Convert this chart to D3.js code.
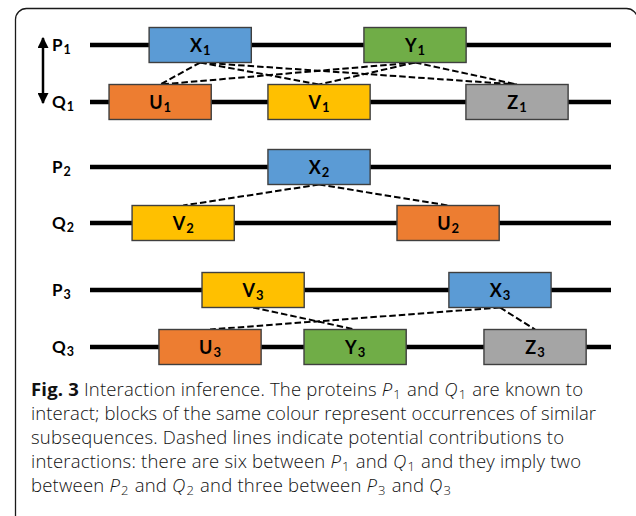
<!DOCTYPE html>
<html>
<head>
<meta charset="utf-8">
<script src="https://cdn.jsdelivr.net/npm/d3@7"></script>
<style>
  html, body { margin: 0; padding: 0; background: #fff; }
  svg { display: block; }
</style>
</head>
<body>
<svg id="chart" width="636" height="516"></svg>
<script>
// ---------------- data ----------------
// sequence rows (protein, index)
const rows = [
  { id: "P1", name: "P", sub: "1" },
  { id: "Q1", name: "Q", sub: "1" },
  { id: "P2", name: "P", sub: "2" },
  { id: "Q2", name: "Q", sub: "2" },
  { id: "P3", name: "P", sub: "3" },
  { id: "Q3", name: "Q", sub: "3" }
];
// sequence length (arbitrary units)
const seqLength = 260;
// blocks: row, label, start, end (sequence units), similarity class
const blockRow   = ["P1","P1","Q1","Q1","Q1","P2","Q2","Q2","P3","P3","Q3","Q3","Q3"];
const blockName  = ["X","Y","U","V","Z","X","V","U","V","X","U","Y","Z"];
const blockSub   = ["1","1","1","1","1","2","2","2","3","3","3","3","3"];
const blockStart = [29.5,136.7,9.5,88.8,187.6,88.8,21,153.2,55.9,179.1,34.4,106.8,196.6];
const blockEnd   = [80.5,187.7,60.5,139.8,238.6,139.8,72,204.2,106.9,230.1,85.4,157.8,247.6];
// potential interaction contributions (dashed lines)
const linkFrom = ["X1","X1","X1","Y1","Y1","Y1","X2","X2","V3","X3","X3"];
const linkTo   = ["U1","V1","Z1","U1","V1","Z1","V2","U2","Y3","U3","Z3"];

const captionLines = [
  [{t:"Fig. 3", b:1},{t:" Interaction inference. The proteins "},{t:"P",i:1},{t:"1",s:1},{t:" and "},{t:"Q",i:1},{t:"1",s:1},{t:" are known to"}],
  [{t:"interact; blocks of the same colour represent occurrences of similar"}],
  [{t:"subsequences. Dashed lines indicate potential contributions to"}],
  [{t:"interactions: there are six between "},{t:"P",i:1},{t:"1",s:1},{t:" and "},{t:"Q",i:1},{t:"1",s:1},{t:" and they imply two"}],
  [{t:"between "},{t:"P",i:1},{t:"2",s:1},{t:" and "},{t:"Q",i:1},{t:"2",s:1},{t:" and three between "},{t:"P",i:1},{t:"3",s:1},{t:" and "},{t:"Q",i:1},{t:"3",s:1}]
];

// ---------------- layout / style ----------------
const rowY = { P1: 45, Q1: 102, P2: 167, Q2: 223, P3: 290, Q3: 347 };
const colors = { X: "#5B9BD5", Y: "#70AD47", U: "#ED7D31", V: "#FFC000", Z: "#A5A5A5" };
const boxH = 35;
const labelFont = "Lato, 'Open Sans', 'DejaVu Sans', sans-serif";
const capWidths = [552, 565, 533, 550, 420];

const svg = d3.select("#chart");
const x = d3.scaleLinear().domain([0, seqLength]).range([90, 611]);

// frame
svg.append("rect")
  .attr("x", 15.5).attr("y", 8.5)
  .attr("width", 622).attr("height", 580)
  .attr("rx", 11).attr("ry", 11)
  .attr("fill", "none").attr("stroke", "#1a1a1a").attr("stroke-width", 1.3);

// arrowhead marker
const defs = svg.append("defs");
defs.append("marker").attr("id", "ah")
  .attr("viewBox", "0 0 10 10").attr("refX", 9).attr("refY", 5)
  .attr("markerWidth", 11).attr("markerHeight", 11)
  .attr("markerUnits", "userSpaceOnUse").attr("orient", "auto-start-reverse")
  .append("path").attr("d", "M0,0 L10,5 L0,10 Z").attr("fill", "#000");

svg.append("line")
  .attr("x1", 43).attr("x2", 43)
  .attr("y1", rowY.P1 - 7).attr("y2", rowY.Q1 + 1)
  .attr("stroke", "#000").attr("stroke-width", 2.5)
  .attr("marker-start", "url(#ah)").attr("marker-end", "url(#ah)");

// sequence lines
svg.selectAll("line.seq").data(rows).join("line")
  .attr("class", "seq")
  .attr("x1", x(0)).attr("x2", x(seqLength))
  .attr("y1", d => rowY[d.id]).attr("y2", d => rowY[d.id])
  .attr("stroke", "#000").attr("stroke-width", 4.5);

// row labels
const rl = svg.selectAll("text.rowlab").data(rows).join("text")
  .attr("class", "rowlab")
  .attr("x", 52).attr("y", d => rowY[d.id] + 6)
  .attr("font-family", labelFont).attr("font-weight", 700)
  .attr("font-size", 17).attr("fill", "#000");
rl.append("tspan").text(d => d.name);
rl.append("tspan").attr("font-size", 12.5).attr("dy", 3).attr("dx", 1).text(d => d.sub);

// blocks
const blocks = blockRow.map((r, i) => ({
  row: r, name: blockName[i], sub: blockSub[i],
  start: blockStart[i], end: blockEnd[i], id: blockName[i] + blockSub[i]
}));
const byId = {};
blocks.forEach(b => byId[b.id] = b);

// dashed links (drawn under blocks)
const links = linkFrom.map((f, i) => ({ from: byId[f], to: byId[linkTo[i]] }));
svg.selectAll("line.link").data(links).join("line")
  .attr("class", "link")
  .attr("x1", d => x((d.from.start + d.from.end) / 2))
  .attr("y1", d => rowY[d.from.row] + boxH / 2)
  .attr("x2", d => x((d.to.start + d.to.end) / 2))
  .attr("y2", d => rowY[d.to.row] - boxH / 2)
  .attr("stroke", "#000").attr("stroke-width", 2)
  .attr("stroke-dasharray", "6.5,3");

const bg = svg.selectAll("g.block").data(blocks).join("g").attr("class", "block");
bg.append("rect")
  .attr("x", d => x(d.start)).attr("width", d => x(d.end) - x(d.start))
  .attr("y", d => rowY[d.row] - boxH / 2).attr("height", boxH)
  .attr("fill", d => colors[d.name])
  .attr("stroke", "#3f3f3f").attr("stroke-width", 1.4);
const bt = bg.append("text")
  .attr("x", d => x((d.start + d.end) / 2))
  .attr("y", d => rowY[d.row] + 6.5)
  .attr("text-anchor", "middle")
  .attr("font-family", labelFont).attr("font-weight", 700)
  .attr("font-size", 18).attr("fill", "#000");
bt.append("tspan").text(d => d.name);
bt.append("tspan").attr("font-size", 13).attr("dy", 3).attr("dx", 1).text(d => d.sub);

// caption
const capFont = "'Open Sans', Lato, sans-serif";
const capY0 = 396, capDY = 24;
captionLines.forEach((segs, li) => {
  const t = svg.append("text")
    .attr("x", 31).attr("y", capY0 + li * capDY)
    .attr("font-family", capFont).attr("font-size", 18.5)
    .attr("font-weight", 300).attr("fill", "#111")
    .attr("textLength", capWidths[li]).attr("lengthAdjust", "spacing");
  let shifted = false;
  segs.forEach(s => {
    const sp = t.append("tspan").text(s.t);
    if (s.b) sp.attr("font-weight", 700);
    if (s.i) sp.attr("font-style", "italic");
    if (s.s) { sp.attr("font-size", 13).attr("dy", 2.5).attr("dx", 1); shifted = true; }
    else if (shifted) { sp.attr("dy", -2.5).attr("dx", 1); shifted = false; }
  });
});
</script>
</body>
</html>
